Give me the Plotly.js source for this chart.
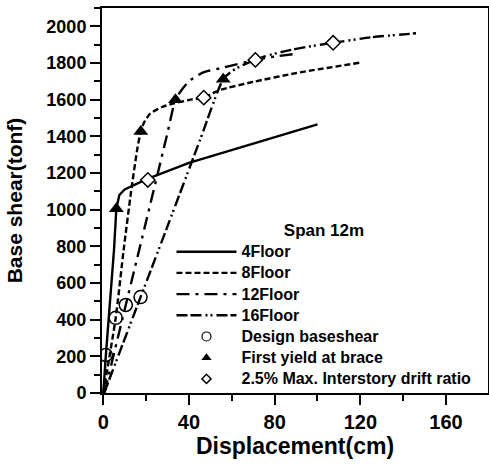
<!DOCTYPE html>
<html>
<head>
<meta charset="utf-8">
<script src="https://cdn.plot.ly/plotly-3.0.1.min.js"></script>
<style>
html,body{margin:0;padding:0;background:#fff;}
#chart{width:489px;height:464px;}
.legendtext{font-size:16px !important;}
</style>
</head>
<body>
<div id="chart"></div>
<script>
// Pushover curves, Span 12m
const f4_x  = [0, 1.2, 5.0, 6.1, 7.5, 10.0, 20.0, 40.0, 70.0, 100.0];
const f4_y  = [0, 207, 780, 1005, 1080, 1110, 1165, 1255, 1360, 1465];
const f8_x  = [0, 5.8, 9.5, 13.0, 16.0, 17.5, 19.0, 22.0, 27.5, 33.0, 40.0, 47.0, 52.0, 55.0, 70.0, 90.0, 120.0];
const f8_y  = [0, 410, 780, 1100, 1340, 1426, 1475, 1525, 1560, 1580, 1598, 1612, 1640, 1655, 1697, 1745, 1802];
const f12_x = [0.5, 10.5, 20.5, 30.0, 33.7, 37.0, 40.7, 47.0, 56.0, 71.0, 80.0, 90.0];
const f12_y = [0, 480, 960, 1420, 1600, 1660, 1707, 1750, 1775, 1817, 1835, 1850];
const f16_x = [0.4, 17.4, 30.0, 45.0, 56.0, 60.0, 65.0, 75.0, 85.0, 95.0, 107.3, 125.0, 146.0];
const f16_y = [0, 523, 910, 1375, 1712, 1755, 1788, 1835, 1865, 1888, 1910, 1940, 1962];

const design_x = [1.2, 5.8, 10.5, 17.4];
const design_y = [207, 410, 480, 523];
const yield_x  = [6.1, 17.5, 33.7, 56.0];
const yield_y  = [1005, 1426, 1600, 1712];
const drift_x  = [20.8, 46.9, 71.0, 107.3];
const drift_y  = [1162, 1611, 1817, 1910];

const seriesNames = ['4Floor', '8Floor', '12Floor', '16Floor'];
const markerNames = ['Design baseshear', 'First yield at brace', '2.5% Max. Interstory drift ratio'];
const legendTitle = 'Span 12m';
const xTitle = 'Displacement(cm)';
const yTitle = 'Base shear(tonf)';

const FONT = 'Liberation Sans, Arial, Helvetica, sans-serif';
const lw = 2.4;

const traces = [
  {x: f4_x,  y: f4_y,  name: seriesNames[0], mode: 'lines', line: {color: '#000', width: lw, dash: 'solid'}},
  {x: f8_x,  y: f8_y,  name: seriesNames[1], mode: 'lines', line: {color: '#000', width: lw, dash: '6px,3px', shape: 'spline', smoothing: 0.6}},
  {x: f12_x, y: f12_y, name: seriesNames[2], mode: 'lines', line: {color: '#000', width: lw, dash: '13px,6px,3px,6px', shape: 'spline', smoothing: 0.6}},
  {x: f16_x, y: f16_y, name: seriesNames[3], mode: 'lines', line: {color: '#000', width: lw, dash: '11px,3px,11px,4px,2px,3px,2px,4px', shape: 'spline', smoothing: 0.6}},
  // plotted markers
  {x: design_x, y: design_y, mode: 'markers', showlegend: false,
   marker: {symbol: 'circle-open', size: 13, color: '#000', line: {width: 1.5, color: '#000'}}},
  {x: yield_x, y: yield_y, mode: 'markers', showlegend: false,
   marker: {symbol: 'triangle-up', size: 13, color: '#000'}},
  {x: drift_x, y: drift_y, mode: 'markers', showlegend: false,
   marker: {symbol: 'diamond', size: 11, color: '#fff', line: {width: 1.5, color: '#000'}}},
  // legend entries
  {x: [null], y: [null], name: markerNames[0], mode: 'markers',
   marker: {symbol: 'circle-open', size: 9, color: '#000', line: {width: 1.2, color: '#000'}}},
  {x: [null], y: [null], name: markerNames[1], mode: 'markers',
   marker: {symbol: 'triangle-up', size: 9, color: '#000'}},
  {x: [null], y: [null], name: markerNames[2], mode: 'markers',
   marker: {symbol: 'diamond', size: 7, color: '#fff', line: {width: 1.5, color: '#000'}}}
];

const layout = {
  width: 489, height: 464,
  margin: {l: 102, r: 1, t: 8, b: 71},
  paper_bgcolor: '#fff', plot_bgcolor: '#fff',
  font: {family: FONT, color: '#000', weight: 700},
  showlegend: true,
  legend: {
    x: 0.18, y: 0.465, xanchor: 'left', yanchor: 'top',
    bgcolor: 'rgba(0,0,0,0)', borderwidth: 0,
    itemwidth: 60,
    font: {family: FONT, size: 14, color: '#000', weight: 700},
    title: {text: legendTitle, side: 'top center', font: {family: FONT, size: 17, color: '#000', weight: 700}},
    traceorder: 'normal'
  },
  xaxis: {
    range: [-0.6, 179.6], tickvals: [0, 40, 80, 120, 160],
    showgrid: false, zeroline: false,
    showline: true, linewidth: 2, linecolor: '#000', mirror: true,
    ticks: 'outside', ticklen: 10, tickwidth: 2, tickcolor: '#000',
    minor: {dtick: 20, tick0: 0, ticks: 'outside', ticklen: 6, tickwidth: 2, tickcolor: '#000'},
    tickfont: {family: FONT, size: 20, color: '#000', weight: 700},
    title: {text: xTitle, font: {family: FONT, size: 23, color: '#000', weight: 700}, standoff: 6}
  },
  yaxis: {
    range: [0, 2100], dtick: 200,
    showgrid: false, zeroline: false,
    showline: true, linewidth: 2, linecolor: '#000', mirror: true,
    ticks: 'outside', ticklen: 10, tickwidth: 2, tickcolor: '#000',
    minor: {dtick: 100, tick0: 0, ticks: 'outside', ticklen: 6, tickwidth: 2, tickcolor: '#000'},
    tickfont: {family: FONT, size: 18, color: '#000', weight: 700},
    title: {text: yTitle, font: {family: FONT, size: 21, color: '#000', weight: 700}, standoff: 18}
  }
};

Plotly.newPlot('chart', traces, layout, {displayModeBar: false, staticPlot: true});
</script>
</body>
</html>
